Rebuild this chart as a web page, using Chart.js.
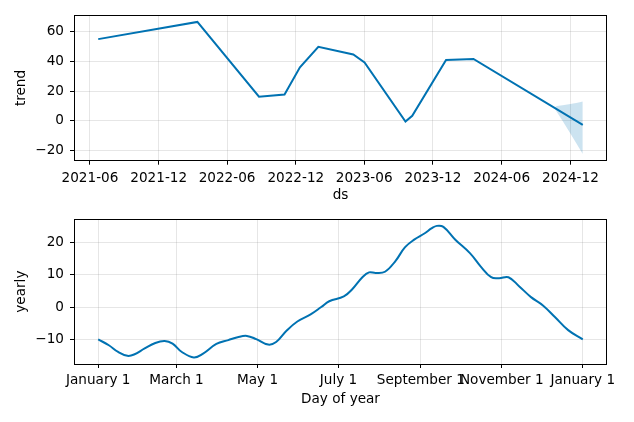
<!DOCTYPE html>
<html><head><meta charset="utf-8">
<script src="https://cdn.jsdelivr.net/npm/chart.js@4.4.1/dist/chart.umd.min.js"></script>
<style>
html,body{margin:0;padding:0;background:#fff}
#wrap{width:634px;height:422px;position:relative;background:#fff}
canvas{display:block}
</style>
</head><body>
<div id="wrap"><canvas id="c1" width="634" height="211"></canvas><canvas id="c2" width="634" height="211"></canvas></div>
<script>
// ---- Trend component ----
const trendDates  = ['2021-06-23','2022-03-14','2022-08-25','2022-11-01','2022-12-12','2023-01-30','2023-05-03','2023-06-02','2023-09-19','2023-10-07','2024-01-05','2024-03-18','2025-01-03'];
const trendValues = [55.1, 66.7, 16.3, 17.7, 36.1, 49.9, 44.8, 39.4, -0.5, 3.4, 41.0, 41.7, -2.7];
const bandDates   = ['2024-10-19','2024-10-26','2024-11-10','2024-12-01','2024-12-20','2025-01-03'];
const bandUpper   = [8.9, 10.0, 10.6, 11.3, 12.2, 13.0];
const bandLower   = [8.9, 6.0, 0.0, -8.5, -16.5, -22.4];
const trendTickLabels = ['2021-06','2021-12','2022-06','2022-12','2023-06','2023-12','2024-06','2024-12'];
const trendYTicks = [-20, 0, 20, 40, 60];

// ---- Yearly component (day of year) ----
const yearlyDays   = [0,8,15,22,27,35,43,50,56,63,72,79,89,98,105,112,119,128,134,142,150,160,168,174,185,191,199,204,209,216,224,231,238,246,251,255,260,269,280,288,296,302,309,317,326,335,344,354,365];
const yearlyValues = [-10.1,-11.9,-14.0,-15.2,-14.8,-12.9,-11.2,-10.6,-11.4,-14.0,-15.7,-14.5,-11.5,-10.3,-9.4,-9.0,-10.0,-11.7,-10.9,-7.3,-4.5,-2.3,0.0,1.8,3.3,5.4,9.3,10.8,10.6,11.0,14.4,18.6,21.0,23.0,24.5,25.3,25.0,21.0,16.8,12.7,9.3,9.0,9.3,6.5,3.1,0.5,-3.1,-7.2,-10.1];
const yearlyTickDays   = [0, 59, 120, 181, 243, 304, 365];
const yearlyTickLabels = ['January 1','March 1','May 1','July 1','September 1','November 1','January 1'];
const yearlyYTicks = [-10, 0, 10, 20];

const LINE = '#0072B2';
const BAND = 'rgba(0,114,178,0.2)';
const GRID = 'rgba(128,128,128,0.2)';
const FONT = {family: 'DejaVu Sans', size: 13.6};

function dayNum(s){ const p = s.split('-').map(Number); return Date.UTC(p[0], p[1]-1, p[2] || 1) / 86400000; }
function margin(vals){ const mn = Math.min(...vals), mx = Math.max(...vals), r = mx - mn; return [mn - 0.05*r, mx + 0.05*r]; }

const framePlugin = {
  id: 'frame',
  afterDraw(chart){
    const {ctx, chartArea: a} = chart;
    ctx.save();
    ctx.strokeStyle = '#000';
    ctx.lineWidth = 1;
    ctx.strokeRect(Math.round(a.left) + 0.5, Math.round(a.top) + 0.5, Math.round(a.right - a.left) - 1, Math.round(a.bottom - a.top));
    ctx.restore();
  }
};

function zeroPad(s){ s.paddingTop = 0; s.paddingBottom = 0; s.paddingLeft = 0; s.paddingRight = 0; }

function makeOptions(cfg){
  return {
    responsive: false,
    animation: false,
    devicePixelRatio: 1,
    layout: {padding: {top: cfg.padTop, right: 27, left: 0, bottom: 0}},
    plugins: {legend: {display: false}, tooltip: {enabled: false}},
    scales: {
      x: {
        type: 'linear', min: cfg.xr[0], max: cfg.xr[1],
        afterBuildTicks: s => { s.ticks = cfg.xTicks.map(v => ({value: v})); },
        afterFit: s => { s.height = cfg.xHeight; zeroPad(s); },
        ticks: {autoSkip: false, maxRotation: 0, minRotation: 0, color: '#000', font: FONT, padding: cfg.xTickPad,
                callback: (v, i) => cfg.xLabels[i]},
        grid: {color: GRID, lineWidth: 1, tickColor: '#000', tickLength: 4, tickWidth: 1},
        border: {display: false},
        title: {display: true, text: cfg.xTitle, color: '#000', font: FONT, padding: {top: 0, bottom: cfg.xTitlePad}}
      },
      y: {
        type: 'linear', min: cfg.yr[0], max: cfg.yr[1],
        afterBuildTicks: s => { s.ticks = cfg.yTicks.map(v => ({value: v})); },
        afterFit: s => { s.width = 74; zeroPad(s); },
        ticks: {color: '#000', font: FONT, padding: 6,
                callback: v => (v < 0 ? '\u2212' + Math.abs(v) : String(v))},
        grid: {color: GRID, lineWidth: 1, tickColor: '#000', tickLength: 4, tickWidth: 1},
        border: {display: false},
        title: {display: true, text: cfg.yTitle, color: '#000', font: FONT, padding: {top: 13.5, bottom: 0}}
      }
    }
  };
}

// Trend chart
const tX = trendDates.map(dayNum);
const bX = bandDates.map(dayNum);
new Chart(document.getElementById('c1'), {
  type: 'line',
  data: {
    datasets: [
      {data: tX.map((x, i) => ({x, y: trendValues[i]})), borderColor: LINE, borderWidth: 2, pointRadius: 0, fill: false, tension: 0},
      {data: bX.map((x, i) => ({x, y: bandUpper[i]})), borderWidth: 0, borderColor: 'rgba(0,0,0,0)', backgroundColor: BAND, pointRadius: 0, fill: '+1', tension: 0},
      {data: bX.map((x, i) => ({x, y: bandLower[i]})), borderWidth: 0, borderColor: 'rgba(0,0,0,0)', pointRadius: 0, fill: false, tension: 0}
    ]
  },
  options: makeOptions({
    padTop: 15.3, xHeight: 50.3, xTitlePad: 7, xTickPad: 5.5,
    xr: margin(tX), yr: margin(trendValues.concat(bandUpper, bandLower)),
    xTicks: trendTickLabels.map(dayNum), xLabels: trendTickLabels, yTicks: trendYTicks,
    xTitle: 'ds', yTitle: 'trend'
  }),
  plugins: [framePlugin]
});

// Yearly chart
new Chart(document.getElementById('c2'), {
  type: 'line',
  data: {
    datasets: [
      {data: yearlyDays.map((x, i) => ({x, y: yearlyValues[i]})), borderColor: LINE, borderWidth: 2, pointRadius: 0, fill: false, tension: 0.4}
    ]
  },
  options: makeOptions({
    padTop: 8.3, xHeight: 58, xTitlePad: 14, xTickPad: 4,
    xr: margin(yearlyDays), yr: margin(yearlyValues),
    xTicks: yearlyTickDays, xLabels: yearlyTickLabels, yTicks: yearlyYTicks,
    xTitle: 'Day of year', yTitle: 'yearly'
  }),
  plugins: [framePlugin]
});
</script>
</body></html>
